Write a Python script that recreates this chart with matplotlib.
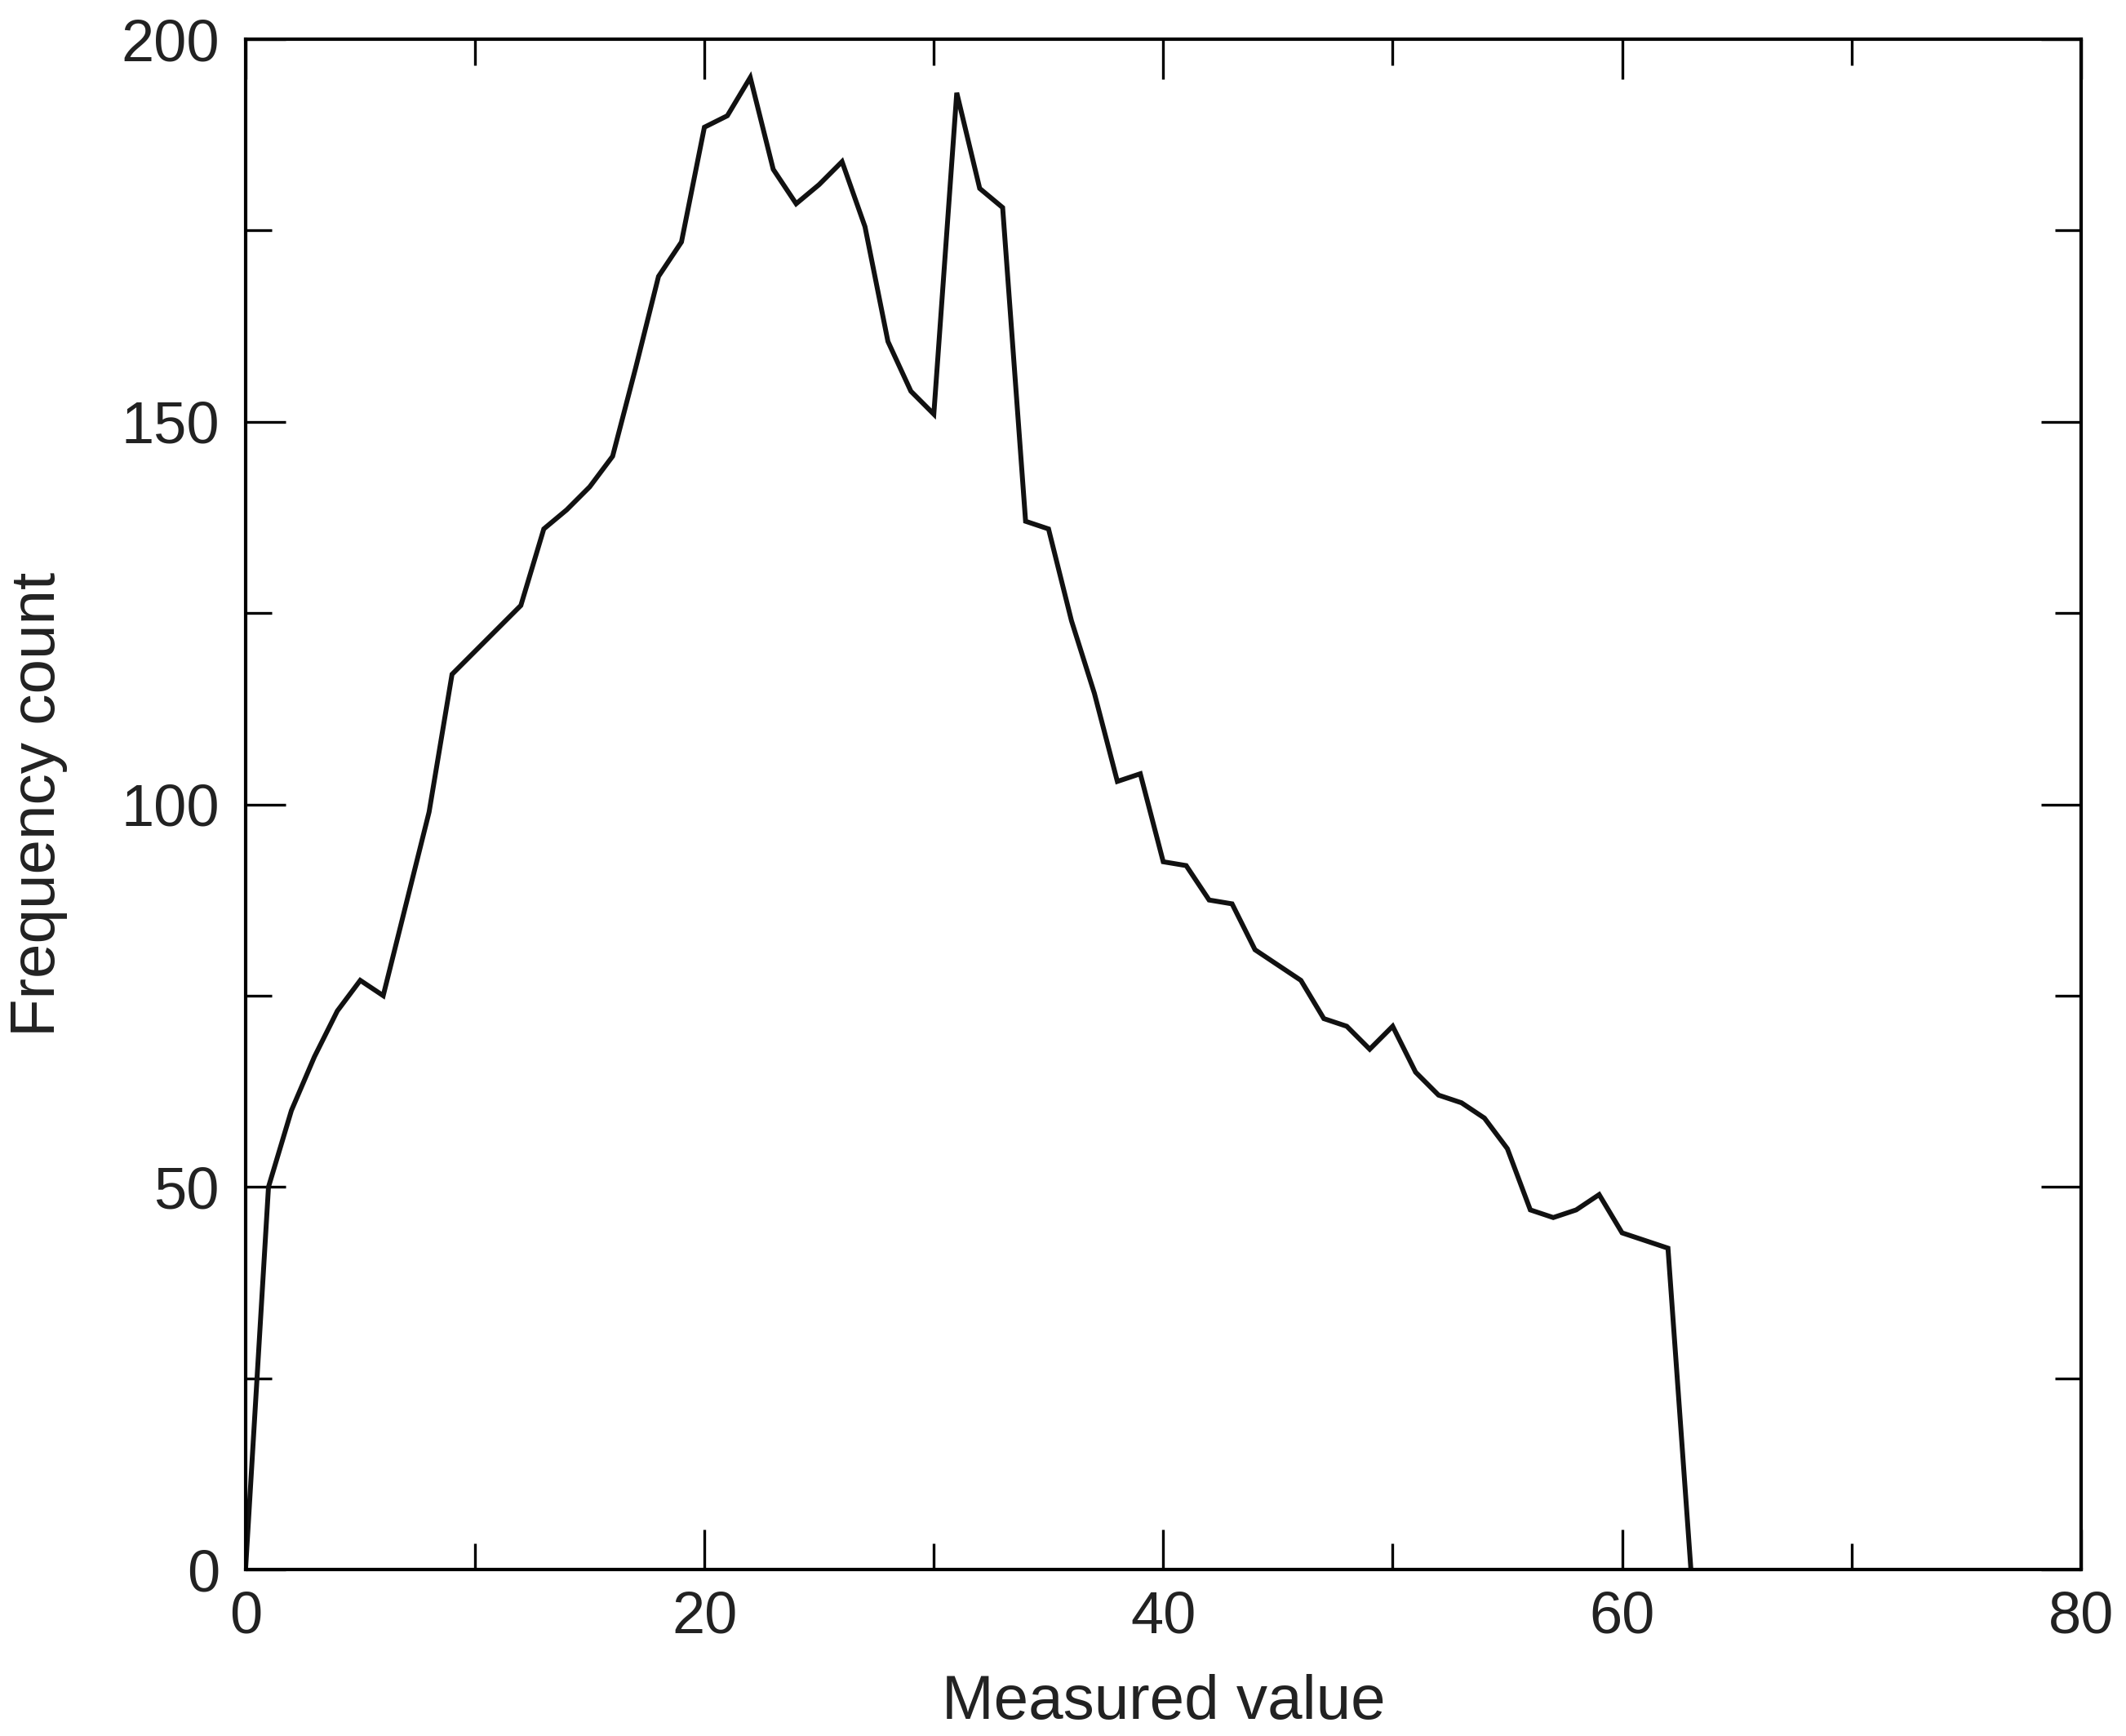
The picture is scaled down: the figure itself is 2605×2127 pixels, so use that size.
import matplotlib
matplotlib.use("Agg")
import matplotlib.pyplot as plt
from matplotlib.ticker import MultipleLocator

plt.rcParams['font.family'] = ['Liberation Sans', 'DejaVu Sans']

measured_value = list(range(0, 64))
frequency_count = [
    0, 50, 60, 67, 73, 77, 75, 87, 99, 117,
    120, 123, 126, 136, 138.5, 141.5, 145.5, 157, 169, 173.5,
    188.5, 190, 195, 183, 178.5, 181, 184, 175.5, 160.5, 154,
    151, 193, 180.5, 178, 137, 136, 124, 114.5, 103, 104,
    92.5, 92, 87.5, 87, 81, 79, 77, 72, 71, 68,
    71, 65, 62, 61, 59, 55, 47, 46, 47, 49,
    44, 43, 42, 0,
]
x_ticks = [0, 20, 40, 60, 80]
y_ticks = [0, 50, 100, 150, 200]

fig = plt.figure(figsize=(26.05, 21.27), dpi=100)
ax = fig.add_axes([0.1155, 0.0959, 0.8633, 0.8815])

ax.plot(measured_value, frequency_count, color='#111111', linewidth=4.3,
        solid_joinstyle='miter')

ax.set_xlim(0, 80)
ax.set_ylim(0, 200)
ax.set_xticks(x_ticks)
ax.set_yticks(y_ticks)
ax.xaxis.set_minor_locator(MultipleLocator(10))
ax.yaxis.set_minor_locator(MultipleLocator(25))

ax.tick_params(axis='both', which='both', direction='in', top=True, right=True,
               colors='black', labelsize=52, labelcolor='#222222')
ax.tick_params(which='major', length=35, width=2.4)
ax.tick_params(which='minor', length=23, width=2.4)
ax.tick_params(axis='x', which='major', pad=18)
ax.tick_params(axis='y', which='major', pad=23)

for s in ax.spines.values():
    s.set_linewidth(3.0)
    s.set_color('black')

ax.set_xlabel('Measured value', fontsize=55, color='#222222')
ax.set_ylabel('Frequency count', fontsize=55, color='#222222')
ax.xaxis.set_label_coords(0.5, -0.068)
ax.yaxis.set_label_coords(-0.097, 0.5)

fig.savefig('out.png', dpi=100)
